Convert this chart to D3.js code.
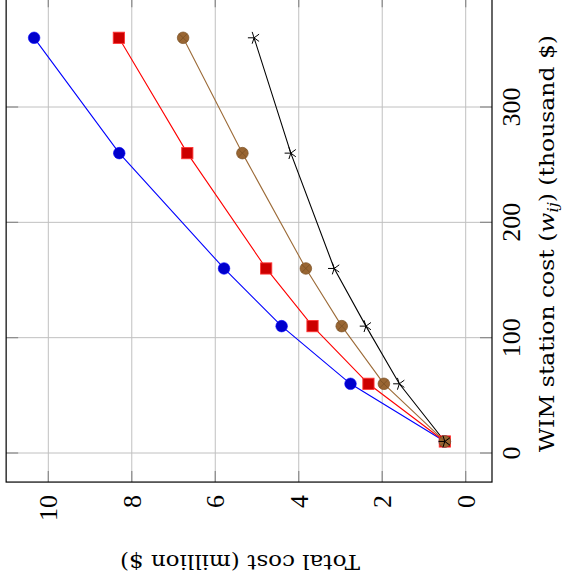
<!DOCTYPE html>
<html><head><meta charset="utf-8">
<script src="https://cdn.jsdelivr.net/npm/d3@7"></script>
<style>body{margin:0;background:#fff}svg{display:block}</style>
</head><body>
<svg id="chart" width="565" height="580"></svg>
<script>
// WIM station cost (thousand $)
const wimCost = [10, 60, 110, 160, 260, 360];
// Total cost (million $) per series
const seriesBlue  = [0.50, 2.76, 4.41, 5.79, 8.30, 10.34];
const seriesRed   = [0.50, 2.33, 3.67, 4.78, 6.67, 8.31];
const seriesBrown = [0.50, 1.96, 2.97, 3.83, 5.35, 6.77];
const seriesBlack = [0.50, 1.59, 2.39, 3.15, 4.19, 5.07];
const costTicks = [0, 2, 4, 6, 8, 10];
const wimTicks = [0, 100, 200, 300];
const costLimits = [-0.63, 11.01];
const wimLimits = [-25.2, 396];

const svg = d3.select('#chart');
// cost runs right-to-left along the horizontal; WIM cost runs bottom-to-top
const xCost = d3.scaleLinear().domain([0, 10]).range([465.7, 48.3]);
const yWim = d3.scaleLinear().domain([0, 300]).range([453, 107]);

const L = xCost(costLimits[1]), R = xCost(costLimits[0]);
const T = yWim(wimLimits[1]), B = yWim(wimLimits[0]);

const grid = svg.append('g');
costTicks.forEach(v => {
  grid.append('line').attr('x1', xCost(v)).attr('x2', xCost(v)).attr('y1', T).attr('y2', B)
    .attr('stroke', '#c0c0c0').attr('stroke-width', 1);
});
wimTicks.forEach(v => {
  grid.append('line').attr('x1', L).attr('x2', R).attr('y1', yWim(v)).attr('y2', yWim(v))
    .attr('stroke', '#c0c0c0').attr('stroke-width', 1);
});
// ticks
const tk = svg.append('g').attr('stroke', '#8a8a8a').attr('stroke-width', 1.2);
costTicks.forEach(v => {
  tk.append('line').attr('x1', xCost(v)).attr('x2', xCost(v)).attr('y1', B).attr('y2', B - 11);
  tk.append('line').attr('x1', xCost(v)).attr('x2', xCost(v)).attr('y1', T).attr('y2', T + 11);
});
wimTicks.forEach(v => {
  tk.append('line').attr('x1', L).attr('x2', L + 12).attr('y1', yWim(v)).attr('y2', yWim(v));
  tk.append('line').attr('x1', R).attr('x2', R - 12).attr('y1', yWim(v)).attr('y2', yWim(v));
});

const series = [
  {vals: seriesBlue, line: '#0000ff', fill: '#0000cc', stroke: '#0000ff', mark: 'circle'},
  {vals: seriesRed, line: '#ff0000', fill: '#cc0000', stroke: '#ff3333', mark: 'square'},
  {vals: seriesBrown, line: '#9c6b38', fill: '#996633', stroke: '#7a5024', mark: 'otimes'},
  {vals: seriesBlack, line: '#000000', fill: 'none', stroke: '#000000', mark: 'star'}
];
const lineGen = d3.line().x(d => xCost(d[1])).y(d => yWim(d[0]));
series.forEach(s => {
  const pts = wimCost.map((w, i) => [w, s.vals[i]]);
  svg.append('path').attr('d', lineGen(pts)).attr('fill', 'none')
    .attr('stroke', s.line).attr('stroke-width', 1.1);
});
series.forEach(s => {
  const g = svg.append('g');
  wimCost.forEach((w, i) => {
    const cx = xCost(s.vals[i]), cy = yWim(w);
    if (s.mark === 'circle') {
      g.append('circle').attr('cx', cx).attr('cy', cy).attr('r', 5.8)
        .attr('fill', s.fill).attr('stroke', s.stroke).attr('stroke-width', 0.6);
    } else if (s.mark === 'square') {
      g.append('rect').attr('x', cx - 5.6).attr('y', cy - 5.6).attr('width', 11.2).attr('height', 11.2)
        .attr('fill', s.fill).attr('stroke', s.stroke).attr('stroke-width', 0.9);
    } else if (s.mark === 'otimes') {
      const r = 5.8, d = r * Math.SQRT1_2;
      g.append('circle').attr('cx', cx).attr('cy', cy).attr('r', r)
        .attr('fill', s.fill).attr('stroke', s.stroke).attr('stroke-width', 0.7);
      g.append('path').attr('d', `M${cx - d},${cy - d}L${cx + d},${cy + d}M${cx - d},${cy + d}L${cx + d},${cy - d}`)
        .attr('stroke', s.stroke).attr('stroke-width', 0.8);
    } else {
      const r = 6.2;
      let p = '';
      for (let k = 0; k < 5; k++) {
        const a = Math.PI + k * 2 * Math.PI / 5;
        p += `M${cx},${cy}L${cx + r * Math.cos(a)},${cy + r * Math.sin(a)}`;
      }
      g.append('path').attr('d', p).attr('stroke', s.stroke).attr('stroke-width', 1);
    }
  });
});

// frame
svg.append('rect').attr('x', L).attr('y', T).attr('width', R - L).attr('height', B - T)
  .attr('fill', 'none').attr('stroke', '#000').attr('stroke-width', 1.2);

const font = "'Liberation Serif', 'DejaVu Serif', serif";
const titleFont = "'DejaVu Serif', serif";
// cost tick labels (rotated)
costTicks.forEach(v => {
  svg.append('text').attr('transform', `translate(${xCost(v)},495) rotate(-90)`)
    .attr('text-anchor', 'end').attr('dy', '0.34em')
    .attr('font-family', font).attr('font-size', 26).attr('fill', '#000').text(v);
});
// WIM tick labels
wimTicks.forEach(v => {
  svg.append('text').attr('transform', `translate(520,${yWim(v)}) rotate(-90)`)
    .attr('text-anchor', 'middle')
    .attr('font-family', font).attr('font-size', 26).attr('fill', '#000').text(v);
});
// axis titles
svg.append('text').attr('transform', `translate(240,555) rotate(180)`)
  .attr('text-anchor', 'middle').attr('font-family', titleFont).attr('font-size', 20)
  .attr('textLength', 240).attr('lengthAdjust', 'spacingAndGlyphs').attr('fill', '#000')
  .text('Total cost (million $)');
const t2 = svg.append('text').attr('transform', `translate(554,243.5) rotate(-90)`)
  .attr('text-anchor', 'middle').attr('font-family', titleFont).attr('font-size', 20)
  .attr('textLength', 417).attr('lengthAdjust', 'spacingAndGlyphs').attr('fill', '#000');
t2.append('tspan').text('WIM station cost (');
t2.append('tspan').attr('font-style', 'italic').text('w');
t2.append('tspan').attr('font-style', 'italic').attr('font-size', 14).attr('dy', 4).text('ij');
t2.append('tspan').attr('dy', -4).text(') (thousand $)');
</script>
</body></html>
